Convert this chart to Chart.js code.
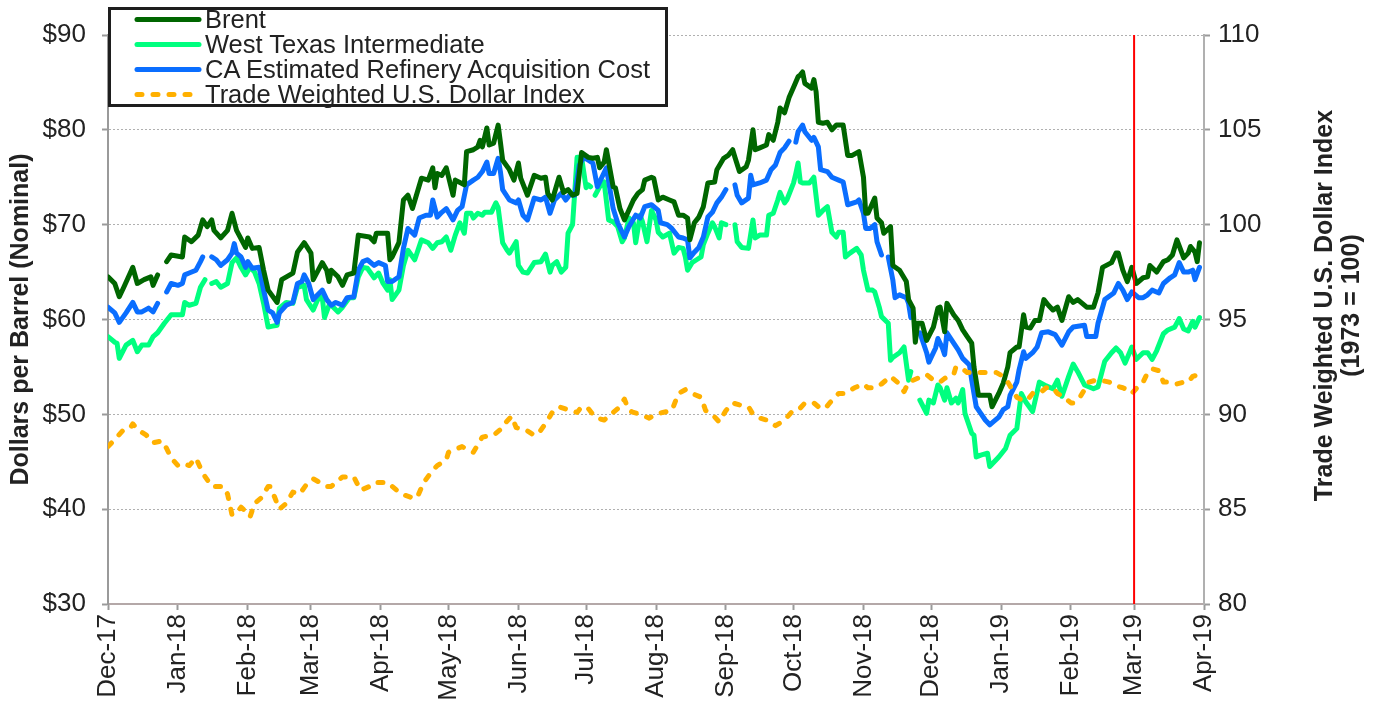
<!DOCTYPE html>
<html>
<head>
<meta charset="utf-8">
<script src="https://cdn.jsdelivr.net/npm/chart.js@4.4.1/dist/chart.umd.min.js"></script>
<style>
html,body{margin:0;padding:0;background:#fff;}
#wrap{position:relative;width:1380px;height:706px;}
#legend{position:absolute;left:108px;top:7px;width:554px;height:94px;border:3px solid #1e1e1e;background:#fff;
  font-family:'Liberation Sans',Arial,sans-serif;font-size:25.5px;color:#222;}
#rows{margin-top:-3px;}
.row{position:relative;height:25px;line-height:25px;white-space:nowrap;}
.row svg{position:absolute;left:22px;top:0;}
.row span{position:absolute;left:94px;top:0;}
</style>
</head>
<body>
<div id="wrap">
<canvas id="c" width="1380" height="706"></canvas>
<div id="legend"><div id="rows"></div></div>
</div>
<script>
// ---- DATA (day offset from 1 Dec 2017, value) ----
const monthDays   = [0,31,62,90,121,151,182,212,243,274,304,335,365,396,427,455,486];
const monthLabels = ['Dec-17','Jan-18','Feb-18','Mar-18','Apr-18','May-18','Jun-18','Jul-18','Aug-18','Sep-18','Oct-18','Nov-18','Dec-18','Jan-19','Feb-19','Mar-19','Apr-19'];
const markerDay = 455; // Mar-19 marker

const brentPts = [[0,64.5],[3,63.8],[5,62.4],[7,63.4],[11,65.5],[13,63.8],[16,64.2],[19,64.5],[20,63.6],[22,64.7],[24,null],[26,66.1],[28,66.8],[33,66.6],[34,68.7],[37,68.2],[40,68.9],[42,70.5],[44,69.8],[46,70.5],[47,69.4],[50,68.6],[53,69.4],[55,71.2],[57,69.4],[61,67.6],[62,68.6],[64,67.5],[67,67.6],[69,65.2],[71,63.1],[75,61.8],[77,64.2],[82,64.9],[84,67.1],[87,68.1],[90,67.0],[91,64.2],[95,66.0],[97,65.2],[98,64.0],[99,65.2],[102,64.5],[104,63.6],[106,64.7],[109,64.9],[111,68.9],[116,68.7],[118,68.2],[119,69.1],[124,69.1],[125,66.3],[126,66.6],[129,68.1],[131,72.6],[133,73.1],[135,71.7],[139,74.9],[142,74.7],[144,76.0],[145,73.9],[146,75.4],[148,75.2],[150,76.0],[153,73.1],[154,74.7],[158,74.2],[159,77.7],[162,77.9],[164,78.2],[165,78.9],[166,78.2],[168,80.2],[169,78.4],[171,78.6],[173,80.5],[174,78.7],[175,76.8],[178,75.8],[180,74.7],[182,76.5],[183,74.9],[186,73.1],[189,75.2],[192,74.9],[194,75.0],[195,73.3],[197,72.6],[200,75.0],[202,73.4],[204,73.7],[206,73.1],[208,73.3],[210,77.6],[213,77.1],[215,77.0],[217,77.1],[218,76.0],[220,76.6],[221,77.9],[224,74.0],[225,73.9],[227,71.7],[229,70.5],[233,72.6],[235,73.3],[237,73.7],[238,74.7],[241,75.0],[242,74.9],[244,72.6],[246,72.9],[249,72.6],[251,72.4],[253,71.0],[255,71.0],[257,70.7],[258,68.4],[260,70.2],[262,70.8],[264,71.9],[266,74.4],[269,74.5],[270,75.8],[273,77.0],[275,77.3],[277,77.9],[278,77.1],[280,75.6],[283,76.1],[284,76.8],[286,80.0],[287,77.9],[289,78.1],[292,78.4],[293,79.5],[295,78.9],[297,80.8],[298,82.3],[300,81.8],[302,83.4],[304,84.5],[306,85.6],[307,85.8],[308,86.1],[309,84.9],[312,84.4],[313,85.3],[314,84.0],[315,80.8],[317,80.7],[319,80.8],[321,80.0],[323,80.5],[326,80.5],[328,77.3],[330,77.3],[333,77.7],[335,75.0],[336,71.2],[337,71.2],[340,72.8],[341,70.7],[343,70.2],[344,69.1],[347,69.8],[348,65.7],[351,65.2],[354,64.0],[355,62.1],[357,61.2],[358,57.6],[359,59.6],[361,59.6],[363,57.8],[366,59.2],[368,61.2],[369,61.3],[371,58.7],[372,61.7],[375,60.5],[377,59.9],[379,58.9],[381,58.2],[383,57.5],[384,55.0],[386,52.0],[389,52.0],[391,52.0],[392,50.8],[395,52.2],[397,53.3],[399,55.0],[400,56.5],[403,57.1],[404,57.1],[406,60.5],[407,59.2],[409,59.1],[411,59.9],[413,59.9],[415,62.1],[417,61.5],[419,61.0],[421,61.3],[423,59.9],[426,62.4],[428,61.8],[430,62.1],[432,61.7],[434,61.3],[437,61.3],[439,62.8],[441,65.5],[445,66.0],[447,67.0],[448,67.0],[450,65.2],[452,64.0],[454,65.5],[456,63.8],[459,64.4],[461,64.5],[462,65.7],[465,65.0],[468,66.1],[470,66.3],[472,66.8],[474,68.4],[477,66.5],[479,67.0],[480,67.7],[482,67.1],[483,66.1],[484,68.1]];

const wtiPts = [[0,58.2],[3,57.6],[4,57.5],[5,55.9],[8,57.3],[11,57.8],[13,56.6],[15,57.3],[18,57.3],[20,58.2],[22,58.6],[25,59.6],[28,60.5],[33,60.5],[34,61.8],[36,61.5],[39,61.7],[41,63.4],[43,64.2],[44,null],[46,63.8],[48,64.0],[50,63.4],[53,63.8],[55,66.0],[57,66.5],[59,65.5],[61,64.7],[63,65.5],[65,65.0],[67,63.8],[69,61.7],[71,59.2],[73,59.3],[75,59.4],[76,61.2],[79,61.8],[82,61.7],[84,63.4],[87,63.6],[88,62.1],[91,61.0],[93,62.1],[95,62.4],[96,60.2],[98,61.5],[99,61.5],[102,60.8],[104,61.3],[107,62.3],[109,62.3],[111,64.5],[113,65.5],[115,65.4],[118,64.4],[120,64.9],[122,63.8],[124,63.1],[125,64.2],[126,62.1],[129,63.1],[131,65.7],[133,67.3],[136,66.3],[139,68.4],[142,68.1],[144,67.5],[146,68.1],[148,68.2],[150,68.7],[152,67.3],[154,68.9],[156,70.2],[158,69.1],[159,71.2],[161,71.2],[162,70.7],[164,71.2],[166,71.0],[167,71.3],[170,71.3],[172,72.3],[173,71.8],[175,68.1],[177,67.3],[178,67.0],[181,68.2],[182,65.7],[184,65.0],[186,64.9],[189,66.0],[192,66.1],[194,66.9],[196,65.0],[197,65.7],[199,66.1],[201,65.0],[203,65.5],[204,69.1],[206,70.0],[208,77.1],[210,77.1],[212,73.9],[213,74.2],[214,74.0],[215,null],[216,73.1],[218,74.0],[220,74.5],[222,70.5],[224,70.3],[226,69.8],[228,68.2],[229,68.6],[231,70.7],[233,70.2],[234,68.1],[236,71.0],[237,70.3],[239,68.2],[241,71.5],[243,70.5],[244,69.2],[246,68.7],[249,69.1],[251,67.0],[253,67.6],[255,67.5],[256,66.6],[257,65.2],[259,66.0],[261,66.3],[263,66.6],[264,67.9],[266,69.1],[268,70.2],[269,69.8],[271,68.6],[272,70.2],[274,70.0],[276,null],[278,70.0],[279,68.2],[281,67.6],[284,67.5],[286,70.5],[287,68.6],[289,68.9],[292,68.9],[293,71.0],[295,71.2],[297,72.6],[298,73.4],[300,72.3],[301,72.6],[304,74.4],[305,75.4],[306,76.5],[307,74.5],[308,74.4],[311,74.4],[313,75.0],[315,71.0],[317,71.5],[319,71.9],[321,69.2],[323,68.7],[324,69.2],[326,69.2],[327,66.6],[329,67.0],[332,67.5],[334,66.8],[335,65.2],[337,63.1],[339,63.1],[340,62.9],[342,61.3],[343,60.3],[346,59.6],[347,55.7],[348,56.0],[351,56.5],[353,57.1],[355,53.6],[356,54.5],[358,null],[360,51.5],[363,50.1],[364,51.5],[366,51.2],[368,53.1],[369,52.8],[371,51.5],[372,52.8],[374,51.2],[376,51.7],[377,51.2],[379,52.6],[380,50.1],[383,48.0],[384,47.8],[385,45.5],[387,45.7],[390,45.9],[391,44.5],[395,45.5],[398,46.4],[400,47.8],[403,48.5],[405,52.2],[407,51.3],[410,50.3],[413,53.4],[416,53.0],[419,52.7],[421,53.6],[423,51.9],[426,54.0],[428,55.3],[430,54.5],[433,53.1],[437,52.7],[439,52.9],[442,55.6],[445,56.5],[447,57.0],[449,56.5],[451,55.4],[454,57.1],[456,55.8],[459,56.5],[461,56.5],[463,55.8],[465,56.7],[468,58.5],[470,58.9],[473,59.2],[475,60.1],[477,59.0],[479,58.8],[481,59.8],[482,59.2],[484,60.2]];

const caPts = [[0,61.3],[3,60.7],[5,59.7],[8,60.7],[11,61.8],[13,60.8],[15,60.8],[18,61.2],[20,60.8],[22,61.7],[24,null],[26,62.9],[28,63.8],[31,63.6],[33,63.8],[34,64.7],[36,64.9],[39,65.2],[41,66.1],[42,66.6],[44,null],[46,66.6],[48,66.3],[50,65.7],[53,66.3],[55,67.0],[56,68.0],[57,67.0],[59,66.6],[61,65.5],[62,66.1],[64,65.4],[67,65.5],[69,63.1],[71,61.0],[73,60.7],[75,59.7],[76,60.7],[79,61.5],[82,61.8],[84,63.8],[86,64.0],[87,64.7],[89,63.8],[91,62.1],[93,62.6],[95,63.1],[97,62.1],[99,61.5],[101,61.8],[104,61.5],[106,62.3],[109,62.4],[111,65.2],[113,66.1],[115,66.3],[118,65.7],[120,66.0],[123,65.7],[124,64.0],[126,64.0],[129,64.5],[131,67.5],[133,69.6],[136,68.9],[138,70.7],[141,71.0],[143,71.0],[144,72.6],[146,70.8],[148,71.3],[150,71.7],[153,70.5],[155,71.5],[157,71.9],[159,74.2],[162,74.7],[164,75.0],[166,75.6],[168,76.6],[169,75.4],[171,75.4],[173,77.0],[174,75.6],[175,73.7],[178,72.6],[181,72.3],[182,72.6],[184,71.0],[186,70.5],[189,72.8],[192,72.6],[194,72.9],[196,71.2],[198,72.6],[201,73.3],[203,72.6],[205,73.2],[207,73.1],[209,76.3],[211,77.1],[213,76.8],[215,76.5],[217,74.0],[219,75.0],[221,76.0],[224,71.7],[226,70.2],[229,68.7],[231,69.8],[234,71.0],[236,70.7],[238,71.9],[241,72.1],[244,71.5],[245,70.2],[248,70.0],[250,69.6],[253,68.7],[255,68.6],[257,68.4],[258,66.5],[260,67.1],[262,67.6],[264,68.7],[266,70.8],[268,71.3],[270,72.3],[272,72.9],[274,73.7],[276,null],[278,74.2],[279,73.1],[281,72.3],[284,72.8],[285,75.2],[286,74.2],[289,74.4],[292,74.7],[294,75.8],[296,76.3],[298,77.6],[300,78.1],[302,78.8],[303,null],[305,78.7],[306,79.8],[308,80.5],[309,79.8],[312,78.9],[313,79.2],[315,78.2],[316,75.8],[319,75.6],[321,75.0],[324,74.7],[326,74.5],[327,73.3],[328,72.1],[332,72.4],[333,72.6],[335,71.2],[336,69.6],[338,69.6],[340,70.0],[341,68.2],[343,66.8],[345,null],[346,66.6],[348,64.2],[349,62.3],[351,62.6],[354,62.3],[355,61.7],[356,60.2],[358,null],[360,58.6],[363,56.5],[364,55.5],[367,57.0],[368,58.0],[370,57.0],[371,56.3],[372,58.6],[375,57.5],[377,56.8],[379,55.9],[382,55.2],[383,53.6],[385,50.8],[387,50.1],[389,49.4],[391,48.9],[392,49.1],[395,49.7],[397,50.5],[399,50.8],[400,52.0],[403,53.4],[404,54.7],[406,56.6],[407,55.9],[410,56.5],[412,57.1],[414,58.6],[417,58.7],[420,58.4],[423,57.3],[426,58.7],[428,59.2],[433,59.4],[434,58.2],[438,58.2],[439,59.6],[442,62.1],[446,62.8],[448,63.8],[450,63.1],[452,62.1],[454,62.9],[457,62.3],[459,62.3],[461,62.6],[463,63.1],[466,62.8],[468,63.8],[471,64.4],[473,64.7],[475,66.0],[477,65.0],[479,65.0],[481,65.2],[482,64.2],[484,65.5]];

const usdPts = [[0,88.3],[4,88.8],[7,89.2],[10,89.3],[11,89.5],[13,89.2],[17,88.9],[20,88.5],[24,88.6],[26,88.2],[28,87.7],[31,87.3],[33,87.4],[36,87.3],[39,87.7],[42,86.9],[46,86.2],[51,86.2],[53,85.8],[55,84.7],[57,84.8],[59,85.1],[62,84.8],[63,84.6],[65,85.3],[68,85.6],[71,86.2],[72,86.2],[74,85.6],[76,85.0],[79,85.3],[82,85.9],[85,85.8],[88,86.3],[91,86.6],[94,86.4],[97,86.2],[99,86.2],[104,86.7],[109,86.7],[112,86.0],[116,86.2],[118,86.4],[124,86.4],[126,86.2],[130,85.8],[135,85.6],[137,85.6],[140,86.4],[143,86.9],[146,87.3],[150,87.6],[151,88.0],[157,88.3],[160,88.1],[162,88.0],[165,88.6],[166,88.8],[171,88.9],[174,89.2],[175,89.4],[179,89.9],[181,89.3],[185,89.2],[189,88.9],[191,89.0],[195,89.7],[197,90.1],[200,90.4],[205,90.2],[208,90.1],[210,90.4],[213,90.3],[215,90.0],[217,89.8],[220,89.7],[223,90.0],[226,90.3],[229,90.8],[231,90.2],[233,90.1],[236,90.0],[240,89.8],[243,90.0],[246,90.1],[250,90.2],[253,91.1],[256,91.3],[259,91.1],[263,90.9],[265,90.2],[268,90.0],[271,89.6],[274,90.2],[277,90.6],[280,90.5],[284,90.4],[286,90.0],[289,89.8],[292,89.7],[296,89.4],[300,89.7],[303,90.1],[306,90.2],[309,90.6],[313,90.6],[315,90.4],[318,90.3],[320,90.6],[324,91.1],[327,91.1],[331,91.4],[335,91.6],[337,91.4],[340,91.4],[343,91.6],[347,92.0],[350,91.7],[353,91.2],[355,91.7],[357,91.8],[361,92.0],[363,92.1],[366,91.8],[369,91.7],[371,91.9],[375,92.1],[376,92.5],[379,92.4],[381,92.2],[384,92.2],[389,92.2],[394,92.2],[397,92.0],[399,91.7],[401,91.3],[403,90.9],[406,90.7],[408,90.8],[410,91.1],[413,91.1],[416,91.4],[419,91.4],[421,91.1],[424,90.9],[427,90.6],[428,90.6],[431,90.9],[433,91.3],[435,91.7],[438,91.8],[440,91.8],[444,91.7],[447,91.5],[450,91.4],[452,91.3],[454,91.1],[457,91.5],[459,91.7],[461,92.2],[463,92.4],[466,92.3],[468,91.7],[471,91.7],[474,91.6],[477,91.7],[479,91.7],[481,92.0],[484,92.1]];

const seriesNames = ['Brent','West Texas Intermediate','CA Estimated Refinery Acquisition Cost','Trade Weighted U.S. Dollar Index'];
const leftTitle = 'Dollars per Barrel (Nominal)';
const rightTitle = ['Trade Weighted U.S. Dollar Index','(1973 = 100)'];

// ---- STYLE ----
const FONT = "'Liberation Sans', Arial, sans-serif";
const TXT = '#222222';
const colors = ['#006600','#00FF7F','#0A6EFF','#FFB000'];
Chart.defaults.font.family = FONT;
Chart.defaults.color = TXT;

const toXY = pts => pts.map(p => ({x:p[0], y:p[1]}));

const datasets = [
  {label:seriesNames[0], data:toXY(brentPts), borderColor:colors[0], borderWidth:5, order:1, yAxisID:'y'},
  {label:seriesNames[1], data:toXY(wtiPts),   borderColor:colors[1], borderWidth:5, order:3, yAxisID:'y'},
  {label:seriesNames[2], data:toXY(caPts),    borderColor:colors[2], borderWidth:5, order:2, yAxisID:'y'},
  {label:seriesNames[3], data:toXY(usdPts),   borderColor:colors[3], borderWidth:5, borderDash:[5,11], order:0, yAxisID:'y2'},
  {label:'marker', data:[{x:markerDay,y:30},{x:markerDay,y:90}], borderColor:'#FF0000', borderWidth:2, order:-1, yAxisID:'y', borderCapStyle:'butt'}
];
datasets.forEach(d => {
  d.pointRadius = 0; d.tension = 0; d.spanGaps = false; d.fill = false;
  if (!d.borderCapStyle) d.borderCapStyle = 'round';
  d.borderJoinStyle = 'round';
});

const rightTitlePlugin = {
  id:'rightTitle',
  afterDraw(chart){
    const c = chart.ctx, s = chart.scales.y2, a = chart.chartArea;
    const cy = (a.top + a.bottom)/2 - 14;
    c.save();
    c.font = 'bold 25px ' + FONT;
    c.fillStyle = TXT; c.textAlign = 'center'; c.textBaseline = 'middle';
    c.translate(s.right - 55, cy);
    c.rotate(-Math.PI/2);
    c.fillText(rightTitle[0], 0, 0);
    c.fillText(rightTitle[1], 0, 27);
    c.restore();
  }
};

new Chart(document.getElementById('c'), {
  type:'line',
  data:{datasets},
  options:{
    responsive:false, animation:false, devicePixelRatio:1,
    layout:{padding:{top:35,left:0,right:0,bottom:0}},
    plugins:{legend:{display:false}, tooltip:{enabled:false}},
    scales:{
      x:{type:'linear', min:0, max:486,
        afterBuildTicks:s=>{ s.ticks = monthDays.map(v=>({value:v})); },
        ticks:{autoSkip:false, maxRotation:90, minRotation:90, padding:4, color:TXT, font:{size:26},
          callback:(v,i)=>monthLabels[i]},
        grid:{drawOnChartArea:false, drawTicks:true, tickLength:6, tickColor:'#9a9a9a', tickWidth:2},
        border:{color:'#b4a8a8', width:2},
        afterFit:s=>{ s.height = 102; }
      },
      y:{position:'left', min:30, max:90,
        ticks:{stepSize:10, padding:16, color:TXT, font:{size:26}, callback:v=>'$'+v},
        grid:{color:'#b0b0b0', lineWidth:1, tickLength:6, tickColor:'#9a9a9a', tickWidth:2},
        border:{color:'#9a9a9a', width:2, dash:[2,2]},
        title:{display:true, text:leftTitle, color:TXT, font:{size:25, weight:'bold'}, padding:{top:6,bottom:0}},
        afterFit:s=>{ s.width = 108; }
      },
      y2:{position:'right', min:80, max:110,
        ticks:{stepSize:5, padding:8, color:TXT, font:{size:26}},
        grid:{drawOnChartArea:false, tickLength:6, tickColor:'#9a9a9a', tickWidth:2},
        border:{color:'#b0b0b0', width:2},
        afterFit:s=>{ s.width = 176; }
      }
    }
  },
  plugins:[rightTitlePlugin]
});

// ---- HTML legend built from datasets ----
const rows = document.getElementById('rows');
datasets.slice(0,4).forEach(d => {
  const row = document.createElement('div'); row.className = 'row';
  const dash = d.borderDash ? ' stroke-dasharray="5 11"' : '';
  row.innerHTML = '<svg width="70" height="25"><line x1="4" y1="12.5" x2="66" y2="12.5" stroke="'+d.borderColor+
    '" stroke-width="5" stroke-linecap="round"'+dash+'/></svg><span></span>';
  row.querySelector('span').textContent = d.label;
  rows.appendChild(row);
});
</script>
</body>
</html>
